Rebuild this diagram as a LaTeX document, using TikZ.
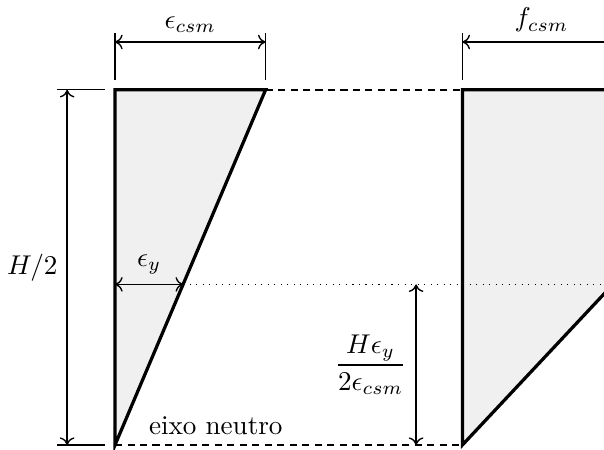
\documentclass[tikz,border=0pt]{standalone}
\usepackage{amsmath}
\usetikzlibrary{arrows.meta}

\begin{document}
\begin{tikzpicture}[line width=0.4pt,>={To[length=2.8pt,width=5.4pt]},
    cota/.style={<->,line width=0.5pt},
    contorno/.style={very thick,fill=gray!12},
    guia/.style={semithick,dash pattern=on 2.6pt off 2pt}]
  \useasboundingbox (-1.49,-0.065) rectangle (6.334,5.764);
  \clip (-1.49,-0.065) rectangle (6.334,5.764);
  % pontos
  \coordinate (O) at (0,0); \coordinate (T) at (0,4.6); \coordinate (E) at (1.95,4.6);
  \coordinate (Y) at (0,2.08); \coordinate (Ey) at (0.882,2.08); \coordinate (Yd) at (6.8,2.08);
  \coordinate (S) at (4.5,0); \coordinate (ST) at (4.5,4.6);
  \coordinate (SY) at (6.45,2.08); \coordinate (SE) at (6.55,4.6);
  % (a) deformacoes
  \draw[contorno] (O)--(T)--(E)--cycle;
  % (b) tensoes
  \draw[contorno] (S)--(ST)--(SE)--(SY)--cycle;
  \draw[guia] (E)--(ST); \draw[guia] (O)--(S) node[pos=0.29,above]{eixo neutro};
  \draw[dotted] (Ey)--(Yd);
  \draw[cota] (Y)--(Ey) node[midway,above]{$\epsilon_y$};
  % cotas no topo
  \draw ([yshift=0.13cm]T)--([yshift=0.74cm]T); \draw ([yshift=0.13cm]E)--([yshift=0.74cm]E);
  \coordinate (c1) at (0,5.22); \coordinate (c2) at (1.95,5.22);
  \draw[cota] (c1)--(c2) node[midway,above]{$\epsilon_{csm}$};
  \draw ([yshift=0.13cm]ST)--([yshift=0.74cm]ST); \draw ([yshift=0.13cm]SE)--([yshift=0.74cm]SE);
  \coordinate (g1) at (4.5,5.22); \coordinate (g2) at (6.55,5.22);
  \draw[cota] (g1)--(g2) node[midway,above]{$f_{csm}$};
  % cotas verticais
  \draw ([xshift=-0.13cm]O)--([xshift=-0.75cm]O); \draw ([xshift=-0.13cm]T)--([xshift=-0.75cm]T);
  \coordinate (h1) at (-0.62,0); \coordinate (h2) at (-0.62,4.6);
  \draw[cota] (h1)--(h2) node[midway,left]{$H/2$};
  \coordinate (f1) at (3.9,0); \coordinate (f2) at (3.9,2.08);
  \draw[cota] (f1)--(f2) node[midway,left]{$\dfrac{H\epsilon_y}{2\epsilon_{csm}}$};
\end{tikzpicture}
\end{document}
